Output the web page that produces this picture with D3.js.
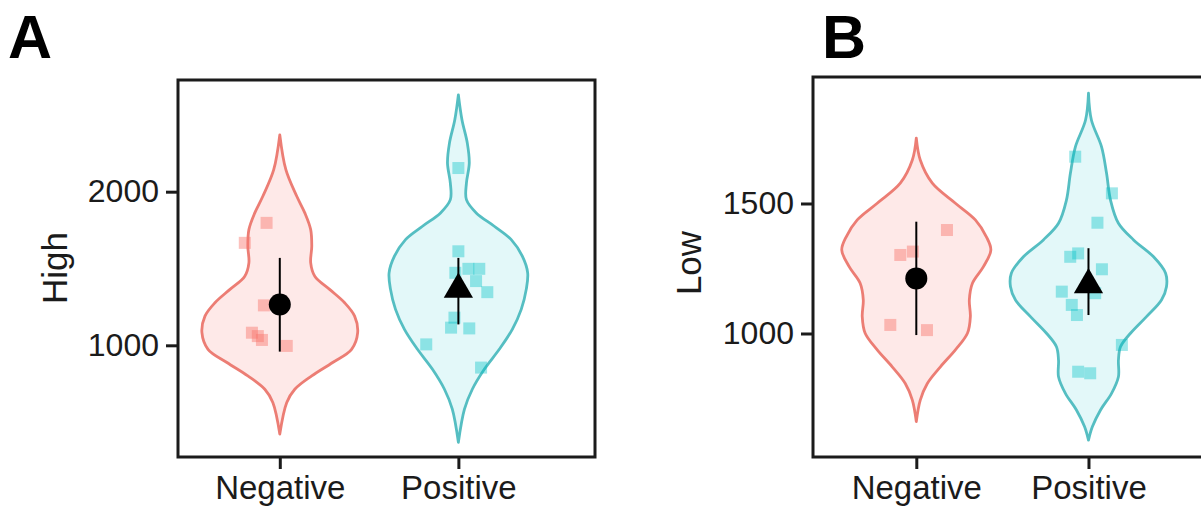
<!DOCTYPE html>
<html>
<head>
<meta charset="utf-8">
<script src="https://cdn.jsdelivr.net/npm/d3@7"></script>
<style>
  html, body { margin: 0; padding: 0; background: #ffffff; }
  svg { display: block; font-family: "Liberation Sans", Arial, Helvetica, sans-serif; }
</style>
</head>
<body>
<script>
// ---------------- DATA ----------------
const categories = ["Negative", "Positive"];
const highTicks = [1000, 2000];
const lowTicks = [1000, 1500];

// violin density profiles: [value, half-width in category units]
const highNegDensity = [[2370,0],[2143,0.034],[1970,0.095],[1862,0.14],[1753,0.173],[1645,0.179],[1537,0.173],[1450,0.196],[1364,0.279],[1277,0.363],[1190,0.419],[1082,0.436],[974,0.402],[888,0.296],[801,0.179],[714,0.084],[628,0.039],[422,0]];
const highPosDensity = [[2630,0],[2468,0.02],[2316,0.05],[2186,0.061],[2056,0.045],[1948,0.045],[1862,0.1],[1775,0.201],[1688,0.296],[1580,0.358],[1472,0.388],[1364,0.38],[1234,0.352],[1104,0.302],[974,0.229],[844,0.145],[714,0.078],[584,0.034],[368,0]];
const lowNegDensity = [[1751,0],[1667,0.023],[1578,0.093],[1501,0.227],[1437,0.343],[1372,0.407],[1321,0.433],[1257,0.39],[1193,0.326],[1129,0.308],[1065,0.314],[1001,0.297],[937,0.227],[872,0.14],[808,0.064],[744,0.023],[661,0]];
const lowPosDensity = [[1924,0],[1821,0.017],[1718,0.076],[1616,0.105],[1513,0.128],[1424,0.174],[1360,0.262],[1295,0.378],[1232,0.448],[1180,0.453],[1129,0.424],[1065,0.337],[1001,0.244],[949,0.186],[898,0.174],[834,0.174],[770,0.134],[706,0.07],[642,0.023],[590,0]];

// individual observations and their horizontal jitter (category units)
const highNegPoints = [1797, 1667, 1260, 1082, 1060, 1035, 996];
const highNegJitter = [-0.074, -0.196, -0.089, -0.156, -0.123, -0.1, 0.039];
const highPosPoints = [2154, 1612, 1498, 1498, 1472, 1418, 1346, 1180, 1115, 1110, 1006, 855];
const highPosJitter = [0, 0, 0.056, 0.117, -0.017, 0.099, 0.162, -0.022, -0.041, 0.061, -0.18, 0.127];
const lowNegPoints = [1398, 1302, 1315, 1033, 1013];
const lowNegJitter = [0.178, -0.093, -0.02, -0.151, 0.062];
const lowPosPoints = [1680, 1539, 1426, 1295, 1308, 1247, 1161, 1155, 1110, 1071, 956, 853, 847];
const lowPosJitter = [-0.077, 0.136, 0.052, -0.106, -0.06, 0.078, -0.155, 0.039, -0.097, -0.067, 0.194, -0.06, 0.01];

// summary: mean with error bar
const highMean = [1266, 1364];
const highLower = [959, 1136];
const highUpper = [1569, 1569];
const lowMean = [1212, 1187];
const lowLower = [994, 1071];
const lowUpper = [1430, 1328];

// ---------------- STYLE ----------------
const lineColors = ["#EC7D74", "#55BEC2"];
const fillColors = ["#F8766D", "#00BFC4"];
const ink = "#1b1b1b";

const svg = d3.select("body").append("svg")
  .attr("width", 1201).attr("height", 508);
svg.append("rect").attr("width", 1201).attr("height", 508).attr("fill", "#ffffff");

function drawPanel(cfg) {
  const g = svg.append("g");
  const x = d3.scaleLinear().domain(cfg.xDomain).range([cfg.box.l, cfg.box.r]);
  const y = d3.scaleLinear().domain(cfg.yDomain).range([cfg.box.b, cfg.box.t]);
  const unit = x(2) - x(1);

  // violins
  cfg.densities.forEach((dens, i) => {
    const cx = x(i + 1);
    const area = d3.area()
      .y(d => y(d[0]))
      .x0(d => cx - d[1] * unit)
      .x1(d => cx + d[1] * unit)
      .curve(d3.curveCatmullRom.alpha(0.5));
    g.append("path").datum(dens)
      .attr("d", area)
      .attr("fill", fillColors[i]).attr("fill-opacity", i === 0 ? 0.16 : 0.11)
      .attr("stroke", lineColors[i]).attr("stroke-width", 2.8)
      .attr("stroke-linejoin", "round");
  });

  // jittered points
  const sq = 12;
  cfg.points.forEach((vals, i) => {
    const cx = x(i + 1);
    g.selectAll(null).data(vals).enter().append("rect")
      .attr("x", (d, k) => cx + cfg.jitters[i][k] * unit - sq / 2)
      .attr("y", d => y(d) - sq / 2)
      .attr("width", sq).attr("height", sq)
      .attr("fill", fillColors[i]).attr("fill-opacity", i === 0 ? 0.45 : 0.38);
  });

  // error bars
  categories.forEach((c, i) => {
    g.append("line")
      .attr("x1", x(i + 1)).attr("x2", x(i + 1))
      .attr("y1", y(cfg.lower[i])).attr("y2", y(cfg.upper[i]))
      .attr("stroke", "#000").attr("stroke-width", 2);
  });

  // mean markers
  g.append("circle")
    .attr("cx", x(1)).attr("cy", y(cfg.mean[0])).attr("r", 11)
    .attr("fill", "#000");
  g.append("path")
    .attr("d", d3.symbol().type(d3.symbolTriangle).size(370)())
    .attr("transform", `translate(${x(2)},${y(cfg.mean[1])})`)
    .attr("fill", "#000");

  // axes
  const yAxis = d3.axisLeft(y).tickValues(cfg.ticks).tickSize(12).tickPadding(7)
    .tickFormat(d3.format("d"));
  const ya = g.append("g").attr("transform", `translate(${cfg.box.l},0)`).call(yAxis);
  ya.select(".domain").remove();
  ya.selectAll("line").attr("stroke", ink).attr("stroke-width", 3);
  ya.selectAll("text").attr("fill", ink).style("font-size", "32px")
    .style("font-family", "'Liberation Sans', Arial, sans-serif");

  const xAxis = d3.axisBottom(x).tickValues([1, 2]).tickSize(12).tickPadding(7)
    .tickFormat(d => categories[d - 1]);
  const xa = g.append("g").attr("transform", `translate(0,${cfg.box.b})`).call(xAxis);
  xa.select(".domain").remove();
  xa.selectAll("line").attr("stroke", ink).attr("stroke-width", 3);
  xa.selectAll("text").attr("fill", ink).style("font-size", "33px")
    .style("font-family", "'Liberation Sans', Arial, sans-serif");

  // frame
  g.append("rect")
    .attr("x", cfg.box.l).attr("y", cfg.box.t)
    .attr("width", cfg.box.r - cfg.box.l).attr("height", cfg.box.b - cfg.box.t)
    .attr("fill", "none").attr("stroke", ink).attr("stroke-width", 3);

  // axis title
  g.append("text")
    .attr("transform", `translate(${cfg.titleX},${cfg.titleY}) rotate(-90)`)
    .attr("text-anchor", "middle")
    .attr("fill", ink).style("font-size", "35px")
    .text(cfg.title);

  // panel letter
  g.append("text")
    .attr("x", cfg.letterX).attr("y", 58)
    .attr("fill", "#000").style("font-size", "61px").style("font-weight", "bold")
    .text(cfg.letter);
}

drawPanel({
  letter: "A", letterX: 8, title: "High", titleX: 67, titleY: 268,
  ticks: highTicks, yDomain: [273, 2727], xDomain: [0.43, 2.765],
  box: { l: 178, r: 595, t: 80, b: 457 },
  densities: [highNegDensity, highPosDensity],
  points: [highNegPoints, highPosPoints],
  jitters: [highNegJitter, highPosJitter],
  mean: highMean, lower: highLower, upper: highUpper
});

drawPanel({
  letter: "B", letterX: 822, title: "Low", titleX: 701, titleY: 263,
  ticks: lowTicks, yDomain: [525, 1986.5], xDomain: [0.4, 2.7],
  box: { l: 813, r: 1209, t: 77, b: 457 },
  densities: [lowNegDensity, lowPosDensity],
  points: [lowNegPoints, lowPosPoints],
  jitters: [lowNegJitter, lowPosJitter],
  mean: lowMean, lower: lowLower, upper: lowUpper
});
</script>
</body>
</html>
